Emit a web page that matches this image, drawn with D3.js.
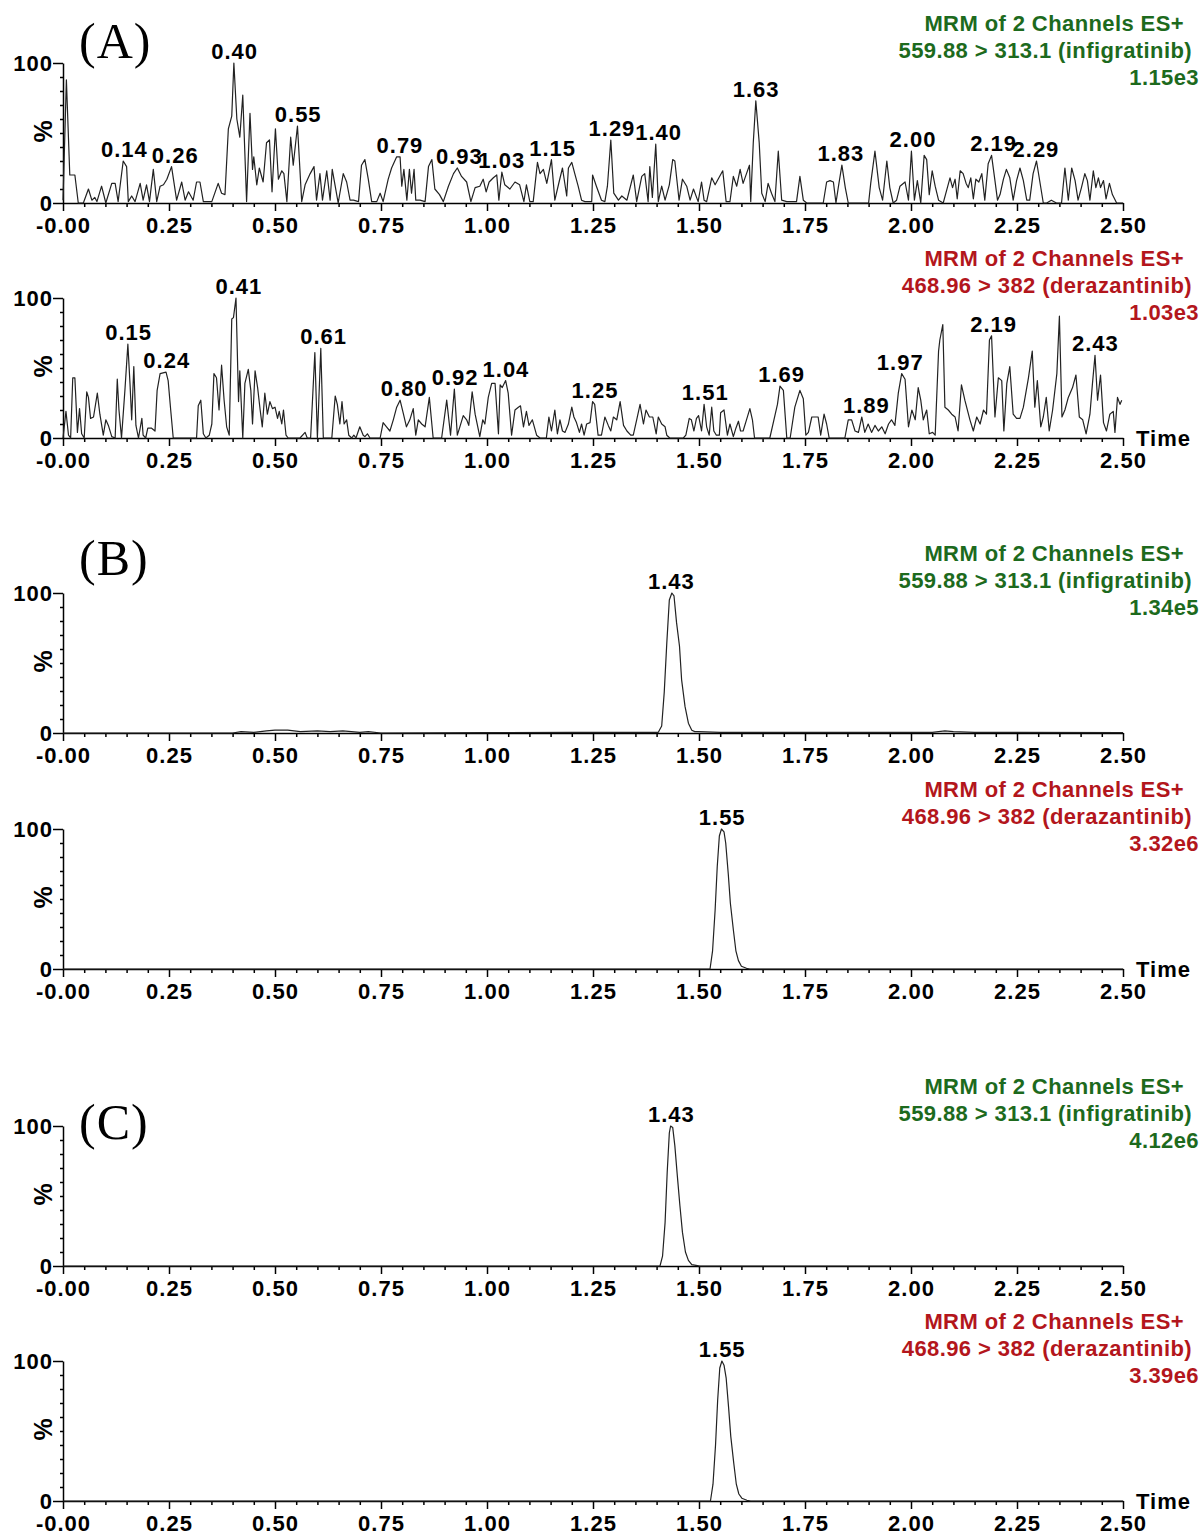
<!DOCTYPE html>
<html>
<head>
<meta charset="utf-8">
<script src="https://cdnjs.cloudflare.com/ajax/libs/d3/7.8.5/d3.min.js"></script>
<style>
  body { margin: 0; background: #fff; }
  .axis path, .axis line { stroke: #000; stroke-width: 1.5; }
  .axis text { font: bold 22px "Liberation Sans", Arial, sans-serif; letter-spacing: 1px; fill: #000; }
  .peak { font: bold 22px "Liberation Sans", Arial, sans-serif; letter-spacing: 1px; fill: #000; }
  .head { font: bold 22px "Liberation Sans", Arial, sans-serif; letter-spacing: 0.4px; }
  .trace { fill: none; stroke: #222; stroke-width: 1.2; stroke-linejoin: round; }
</style>
</head>
<body>
<svg id="chart"></svg>
<script>
// chromatogram traces: [time (min), relative intensity (%)]
const traceA1 = [[0.000,2],[0.008,88],[0.016,20],[0.028,20],[0.036,0],[0.048,0],[0.060,10],[0.068,2],[0.075,4],[0.080,1],[0.091,12],[0.101,0],[0.115,14],[0.123,14],[0.130,1],[0.142,30],[0.150,26],[0.154,1],[0.162,5],[0.170,1],[0.182,14],[0.189,2],[0.197,13],[0.204,1],[0.213,24],[0.221,1],[0.229,12],[0.237,13],[0.245,17],[0.256,26],[0.268,2],[0.280,15],[0.288,2],[0.296,8],[0.307,2],[0.315,15],[0.323,15],[0.331,1],[0.339,1],[0.351,1],[0.366,14],[0.374,7],[0.382,6],[0.390,53],[0.398,62],[0.403,100],[0.410,60],[0.417,47],[0.424,77],[0.433,1],[0.441,64],[0.447,24],[0.450,33],[0.457,13],[0.463,25],[0.472,15],[0.480,43],[0.487,45],[0.493,8],[0.501,53],[0.508,17],[0.516,23],[0.521,21],[0.528,1],[0.537,47],[0.543,27],[0.553,55],[0.563,1],[0.571,13],[0.583,21],[0.592,26],[0.598,2],[0.606,21],[0.612,2],[0.622,23],[0.630,2],[0.635,24],[0.642,12],[0.649,0],[0.661,21],[0.669,15],[0.677,2],[0.685,2],[0.697,1],[0.704,27],[0.712,31],[0.720,17],[0.728,1],[0.740,1],[0.748,7],[0.755,1],[0.767,17],[0.775,25],[0.787,33],
  [0.795,33],[0.799,12],[0.804,24],[0.811,2],[0.817,24],[0.822,7],[0.828,24],[0.832,2],[0.842,2],[0.854,1],[0.862,26],[0.870,31],[0.877,10],[0.888,6],[0.897,1],[0.909,12],[0.921,21],[0.930,25],[0.940,19],[0.952,15],[0.962,1],[0.972,11],[0.983,12],[0.991,17],[0.998,8],[1.005,15],[1.015,18],[1.023,20],[1.028,2],[1.035,22],[1.042,13],[1.054,10],[1.066,15],[1.077,13],[1.087,1],[1.093,13],[1.101,1],[1.109,1],[1.119,29],[1.125,21],[1.133,24],[1.141,14],[1.152,31],[1.160,2],[1.170,15],[1.178,25],[1.188,5],[1.192,25],[1.200,29],[1.207,21],[1.215,12],[1.223,2],[1.231,1],[1.247,1],[1.249,20],[1.258,12],[1.270,2],[1.278,1],[1.284,12],[1.292,45],[1.299,7],[1.310,2],[1.318,5],[1.330,2],[1.345,20],[1.353,1],[1.365,19],[1.372,21],[1.380,1],[1.384,26],[1.390,4],[1.398,42],[1.404,1],[1.412,12],[1.420,2],[1.430,13],[1.438,31],[1.443,30],[1.453,2],[1.461,17],[1.471,12],[1.479,2],[1.487,10],[1.498,1],[1.506,15],[1.512,2],[1.518,1],[1.530,18],[1.538,13],[1.545,17],[1.556,23],[1.564,1],[1.573,1],[1.581,19],[1.589,12],[1.597,24],[1.604,14],[1.612,21],[1.619,27],[1.622,1],[1.628,43],[1.634,73],[1.642,43],[1.648,7],[1.656,1],[1.663,14],[1.671,7],[1.679,1],[1.687,37],[1.695,2],[1.707,1],[1.718,1],[1.730,1],[1.738,19],
  [1.746,2],[1.754,0],[1.766,0],[1.781,0],[1.793,0],[1.801,15],[1.809,16],[1.817,15],[1.823,0],[1.829,12],[1.837,27],[1.845,11],[1.852,0],[1.864,0],[1.888,0],[1.900,0],[1.905,14],[1.915,37],[1.925,11],[1.933,2],[1.943,30],[1.950,11],[1.958,0],[1.966,2],[1.974,12],[1.986,15],[1.994,2],[2.001,37],[2.008,2],[2.015,16],[2.023,0],[2.031,34],[2.037,31],[2.043,6],[2.050,23],[2.057,12],[2.065,2],[2.076,0],[2.084,9],[2.092,18],[2.098,11],[2.104,17],[2.109,3],[2.116,23],[2.123,21],[2.130,14],[2.135,11],[2.141,18],[2.147,3],[2.153,17],[2.160,15],[2.167,21],[2.174,2],[2.182,28],[2.190,34],[2.198,16],[2.204,2],[2.210,6],[2.218,17],[2.225,24],[2.233,18],[2.241,2],[2.249,16],[2.257,25],[2.265,16],[2.273,2],[2.280,2],[2.288,21],[2.296,30],[2.304,15],[2.312,0],[2.320,0],[2.331,2],[2.343,0],[2.355,0],[2.363,25],[2.371,2],[2.379,25],[2.387,16],[2.394,2],[2.402,11],[2.410,21],[2.416,16],[2.422,2],[2.430,23],[2.436,11],[2.442,18],[2.447,11],[2.454,16],[2.460,3],[2.468,14],[2.475,6],[2.485,0],[2.500,0]];

const traceA2 = [[0.000,0],[0.007,19],[0.013,2],[0.018,0],[0.023,43],[0.028,43],[0.034,4],[0.039,21],[0.044,3],[0.050,0],[0.056,33],[0.060,29],[0.065,14],[0.072,15],[0.081,32],[0.087,17],[0.095,2],[0.101,13],[0.107,9],[0.115,1],[0.123,0],[0.128,42],[0.132,20],[0.138,0],[0.146,34],[0.153,67],[0.158,39],[0.162,13],[0.167,51],[0.172,9],[0.178,0],[0.186,14],[0.189,2],[0.195,0],[0.200,7],[0.209,7],[0.217,5],[0.222,34],[0.229,46],[0.243,47],[0.248,41],[0.254,20],[0.260,0],[0.276,0],[0.292,0],[0.307,0],[0.315,0],[0.319,23],[0.325,27],[0.331,3],[0.337,0],[0.345,2],[0.351,10],[0.356,46],[0.362,43],[0.368,20],[0.374,52],[0.380,27],[0.386,8],[0.392,2],[0.398,85],[0.402,86],[0.408,100],[0.414,26],[0.417,48],[0.424,0],[0.429,39],[0.437,49],[0.443,34],[0.447,10],[0.453,48],[0.459,36],[0.465,20],[0.470,8],[0.476,32],[0.482,17],[0.488,26],[0.494,21],[0.500,22],[0.506,14],[0.510,19],[0.516,10],[0.520,20],[0.526,2],[0.531,0],[0.543,0],[0.559,0],[0.571,4],[0.576,0],[0.584,0],[0.594,61],[0.600,0],[0.608,64],[0.614,0],[0.626,0],[0.634,0],[0.642,30],[0.647,24],[0.653,10],[0.658,26],[0.663,10],[0.669,13],[0.674,2],[0.681,0],[0.686,2],[0.691,0],[0.700,8],[0.708,2],[0.712,1],[0.718,3],[0.724,0],[0.740,0],[0.748,0],[0.755,11],[0.763,8],[0.771,5],[0.779,13],[0.787,22],[0.795,27],
  [0.803,17],[0.810,8],[0.818,13],[0.826,21],[0.832,2],[0.838,13],[0.846,10],[0.854,8],[0.864,29],[0.873,0],[0.885,0],[0.893,0],[0.905,27],[0.914,2],[0.923,35],[0.930,2],[0.936,8],[0.944,16],[0.952,13],[0.957,9],[0.965,33],[0.972,17],[0.983,1],[0.990,13],[0.995,10],[1.003,29],[1.011,39],[1.019,39],[1.027,3],[1.031,38],[1.036,36],[1.044,41],[1.050,32],[1.058,2],[1.066,20],[1.074,22],[1.079,23],[1.086,8],[1.093,19],[1.099,9],[1.107,13],[1.117,2],[1.125,0],[1.140,0],[1.146,15],[1.152,5],[1.160,20],[1.166,3],[1.172,13],[1.178,5],[1.184,4],[1.192,10],[1.200,22],[1.205,15],[1.211,11],[1.218,4],[1.223,10],[1.229,2],[1.235,10],[1.243,11],[1.249,26],[1.254,24],[1.262,2],[1.270,2],[1.278,15],[1.286,9],[1.292,5],[1.298,15],[1.306,13],[1.314,26],[1.322,9],[1.330,5],[1.339,2],[1.345,2],[1.353,13],[1.361,24],[1.369,10],[1.375,20],[1.383,15],[1.391,15],[1.399,3],[1.404,15],[1.412,10],[1.420,8],[1.424,2],[1.431,0],[1.447,0],[1.463,0],[1.469,2],[1.477,14],[1.482,13],[1.488,5],[1.494,14],[1.499,16],[1.506,5],[1.512,24],[1.518,8],[1.524,2],[1.530,22],[1.535,5],[1.541,2],[1.548,2],[1.551,18],[1.559,20],[1.567,2],[1.573,10],[1.581,1],[1.587,7],[1.593,12],[1.598,5],[1.604,5],[1.612,13],[1.620,21],[1.626,13],[1.631,0],[1.643,0],[1.656,0],[1.667,0],[1.679,16],[1.685,24],[1.691,37],[1.699,34],[1.707,0],[1.715,0],[1.726,22],
  [1.738,34],[1.746,28],[1.752,2],[1.758,4],[1.766,15],[1.774,15],[1.781,15],[1.787,2],[1.795,17],[1.801,10],[1.807,0],[1.817,0],[1.833,0],[1.844,0],[1.852,13],[1.860,13],[1.868,5],[1.876,4],[1.884,15],[1.891,4],[1.899,10],[1.907,4],[1.915,9],[1.923,5],[1.931,8],[1.939,3],[1.947,10],[1.954,13],[1.962,9],[1.970,32],[1.978,46],[1.986,42],[1.994,8],[2.002,20],[2.010,13],[2.017,36],[2.023,27],[2.029,13],[2.037,20],[2.043,3],[2.051,4],[2.057,2],[2.065,62],[2.068,70],[2.075,81],[2.080,22],[2.088,20],[2.096,17],[2.104,15],[2.111,5],[2.119,38],[2.127,27],[2.139,13],[2.147,5],[2.155,15],[2.163,10],[2.171,20],[2.178,17],[2.185,70],[2.190,73],[2.198,15],[2.206,43],[2.214,41],[2.219,5],[2.226,39],[2.233,51],[2.241,17],[2.249,14],[2.257,14],[2.265,22],[2.277,43],[2.286,62],[2.292,22],[2.298,41],[2.306,8],[2.312,15],[2.319,29],[2.326,5],[2.334,20],[2.344,46],[2.350,87],[2.356,15],[2.363,20],[2.371,29],[2.381,36],[2.389,45],[2.397,15],[2.405,13],[2.413,3],[2.422,17],[2.428,39],[2.434,59],[2.440,27],[2.447,45],[2.454,11],[2.461,5],[2.469,17],[2.477,19],[2.481,4],[2.487,29],[2.493,24],[2.497,27]];

const traceB1 = [[0.000,0],[0.400,0],[0.420,1],[0.450,0.5],[0.480,1.5],[0.500,2],[0.530,2],[0.560,1],[0.600,1.5],[0.630,1],[0.660,1.5],[0.700,0.5],[0.720,1],[0.750,0],[1.000,0.3],[1.200,0.5],[1.350,0.5],[1.404,0.5],[1.412,5],[1.418,29],[1.424,64],[1.430,95],[1.436,100],[1.441,98],[1.447,79],[1.454,62],[1.459,38],[1.467,19],[1.475,7],[1.483,2],[1.490,1],[1.498,1],[1.550,0.5],[1.700,0.5],[1.850,0.5],[2.050,0.5],[2.080,1.5],[2.100,1],[2.150,0.5],[2.500,0.3]];
const traceB2 = [[0.000,0],[1.526,0],[1.532,13],[1.538,42],[1.543,73],[1.548,95],[1.553,100],[1.559,98],[1.563,90],[1.569,68],[1.574,47],[1.581,28],[1.587,13],[1.593,6],[1.600,2],[1.612,0.5],[1.620,0],[2.500,0]];
const traceC1 = [[0.000,0],[1.408,0],[1.414,7],[1.420,31],[1.425,67],[1.430,95],[1.433,100],[1.438,99],[1.443,86],[1.449,64],[1.455,43],[1.461,24],[1.468,10],[1.475,4],[1.483,1],[1.493,0.5],[1.502,0],[2.500,0]];
const traceC2 = [[0.000,0],[1.527,0],[1.533,12],[1.539,40],[1.544,72],[1.549,95],[1.554,100],[1.559,97],[1.564,88],[1.570,66],[1.575,46],[1.582,27],[1.588,12],[1.594,5],[1.601,2],[1.613,0.5],[1.622,0],[2.500,0]];

// labelled retention times
const labelsA1 = [0.14, 0.26, 0.40, 0.55, 0.79, 0.93, 1.03, 1.15, 1.29, 1.40, 1.63, 1.83, 2.00, 2.19, 2.29];
const labelsA2 = [0.15, 0.24, 0.41, 0.61, 0.80, 0.92, 1.04, 1.25, 1.51, 1.69, 1.89, 1.97, 2.19, 2.43];
const labelsB1 = [1.43];
const labelsB2 = [1.55];
const labelsC1 = [1.43];
const labelsC2 = [1.55];

// channel headers
const headInfig = ["MRM of 2 Channels ES+", "559.88 > 313.1 (infigratinib)"];
const headDeraz = ["MRM of 2 Channels ES+", "468.96 > 382 (derazantinib)"];
const intensA1 = "1.15e3", intensA2 = "1.03e3", intensB1 = "1.34e5", intensB2 = "3.32e6", intensC1 = "4.12e6", intensC2 = "3.39e6";

const xTicks = [0, 0.25, 0.50, 0.75, 1.00, 1.25, 1.50, 1.75, 2.00, 2.25, 2.50];
const yTicks = [0, 100];

const green = "#1d6a1d", red = "#b3161c";

var W = 1202, H = 1536;
var svg = d3.select("#chart").attr("width", W).attr("height", H);

var x = d3.scaleLinear().domain([0, 2.5]).range([63, 1123]);
var plotH = 140;

var minorX = d3.range(0, 2.5001, 0.05).filter(function(d) { return Math.abs(d / 0.25 - Math.round(d / 0.25)) > 1e-6; });
var minorY = d3.range(10, 100, 10);

var panels = [
  {trace: traceA1, labels: labelsA1, head: headInfig.concat([intensA1]), color: green, y0: 203, tag: "(A)", tagY: 58, time: false},
  {trace: traceA2, labels: labelsA2, head: headDeraz.concat([intensA2]), color: red,   y0: 438, time: true},
  {trace: traceB1, labels: labelsB1, head: headInfig.concat([intensB1]), color: green, y0: 733, tag: "(B)", tagY: 575, time: false},
  {trace: traceB2, labels: labelsB2, head: headDeraz.concat([intensB2]), color: red,   y0: 969, time: true},
  {trace: traceC1, labels: labelsC1, head: headInfig.concat([intensC1]), color: green, y0: 1266, tag: "(C)", tagY: 1139, time: false},
  {trace: traceC2, labels: labelsC2, head: headDeraz.concat([intensC2]), color: red,   y0: 1501, time: true}
];

var headRight = [1184, 1192, 1199];

panels.forEach(function(p) {
  var y = d3.scaleLinear().domain([0, 100]).range([p.y0, p.y0 - plotH]);
  var g = svg.append("g");

  // x axis: minor then major ticks
  g.append("g").attr("class", "axis").attr("transform", "translate(0," + p.y0 + ")")
    .call(d3.axisBottom(x).tickValues(minorX).tickSize(4).tickFormat(""))
    .call(function(a) { a.select(".domain").remove(); });
  g.append("g").attr("class", "axis").attr("transform", "translate(0," + p.y0 + ")")
    .call(d3.axisBottom(x).tickValues(xTicks).tickSize(8).tickSizeOuter(0)
      .tickFormat(function(d) { return d === 0 ? "-0.00" : d.toFixed(2); }))
    .selectAll("text").attr("y", 14);

  // y axis
  g.append("g").attr("class", "axis").attr("transform", "translate(63,0)")
    .call(d3.axisLeft(y).tickValues(minorY).tickSize(3).tickFormat(""))
    .call(function(a) { a.select(".domain").remove(); });
  g.append("g").attr("class", "axis").attr("transform", "translate(63,0)")
    .call(d3.axisLeft(y).tickValues(yTicks).tickSize(10).tickSizeOuter(0))
    .selectAll("text").attr("x", -10);

  g.append("text").attr("class", "peak")
    .attr("transform", "translate(52," + (p.y0 - 72) + ") rotate(-90)")
    .attr("text-anchor", "middle").style("font-size", "25px").text("%");

  // trace
  var line = d3.line().x(function(d) { return x(d[0]); }).y(function(d) { return y(d[1]); });
  g.append("path").datum(p.trace).attr("class", "trace").attr("d", line);

  // peak labels sit just above the local apex
  p.labels.forEach(function(t) {
    var near = p.trace.filter(function(d) { return Math.abs(d[0] - t) <= 0.012; });
    var top = d3.max(near, function(d) { return d[1]; });
    g.append("text").attr("class", "peak")
      .attr("x", x(t) + 2).attr("y", y(top) - 4)
      .attr("text-anchor", "middle").text(t.toFixed(2));
  });

  // header on the right
  p.head.forEach(function(s, i) {
    g.append("text").attr("class", "head")
      .attr("x", headRight[i]).attr("y", p.y0 - 172 + 27 * i)
      .attr("text-anchor", "end").attr("fill", p.color).text(s);
  });

  if (p.time) {
    g.append("text").attr("class", "peak").attr("x", 1136).attr("y", p.y0 + 8).text("Time");
  }
  if (p.tag) {
    g.append("text").attr("x", 79).attr("y", p.tagY)
      .style("font", "50px 'Liberation Serif', 'Times New Roman', serif")
      .style("letter-spacing", "1px").text(p.tag);
  }
});
</script>
</body>
</html>
